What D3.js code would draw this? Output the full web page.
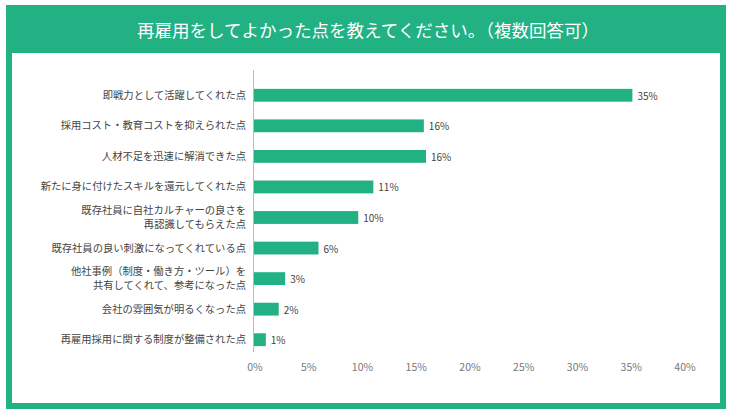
<!DOCTYPE html>
<meta charset="utf-8">
<style>
    body {
        margin: 0;
        font-family: 'Noto Sans CJK JP', 'Noto Sans', sans-serif;
        background: #fff;
    }
</style>
<script src="https://cdn.jsdelivr.net/npm/d3@7"></script>
<div id="graph"></div>
<script>
    const title = "再雇用をしてよかった点を教えてください。（複数回答可）";
    const categories = [
        ["即戦力として活躍してくれた点"],
        ["採用コスト・教育コストを抑えられた点"],
        ["人材不足を迅速に解消できた点"],
        ["新たに身に付けたスキルを還元してくれた点"],
        ["既存社員に自社カルチャーの良さを", "再認識してもらえた点"],
        ["既存社員の良い刺激になってくれている点"],
        ["他社事例（制度・働き方・ツール）を", "共有してくれて、参考になった点"],
        ["会社の雰囲気が明るくなった点"],
        ["再雇用採用に関する制度が整備された点"]
    ];
    const values = [35.2, 15.8, 16.0, 11.1, 9.7, 6.0, 2.9, 2.3, 1.1];
    const valueLabels = ["35%", "16%", "16%", "11%", "10%", "6%", "3%", "2%", "1%"];
    const ticks = [0, 5, 10, 15, 20, 25, 30, 35, 40];

    const W = 733, H = 415, green = "#22b183";

    const svg = d3.select("#graph").append("svg")
        .attr("width", W).attr("height", H);

    // frame + header band
    svg.append("rect").attr("x", 6).attr("y", 5).attr("width", 720).attr("height", 404).attr("fill", green);
    svg.append("rect").attr("x", 12).attr("y", 53).attr("width", 708).attr("height", 350).attr("fill", "#fff");
    svg.append("text")
        .attr("x", 368).attr("y", 29)
        .attr("text-anchor", "middle").attr("dominant-baseline", "central")
        .attr("fill", "#fff").attr("font-size", 17.5)
        .text(title);

    const x = d3.scaleLinear().domain([0, 40]).range([254, 684]);
    const y = d3.scaleBand().domain(d3.range(categories.length)).range([80, 355]).paddingInner(0.58).paddingOuter(0.29);

    // bars
    svg.append("g").selectAll("rect")
        .data(values).enter().append("rect")
        .attr("x", x(0))
        .attr("y", (d, i) => y(i))
        .attr("width", d => x(d) - x(0))
        .attr("height", y.bandwidth())
        .attr("fill", green);

    // value labels
    svg.append("g").selectAll("text")
        .data(values).enter().append("text")
        .attr("x", d => x(d) + 5)
        .attr("y", (d, i) => y(i) + y.bandwidth() / 2)
        .attr("dominant-baseline", "central")
        .attr("font-size", 10)
        .attr("fill", "#444")
        .text((d, i) => valueLabels[i]);

    // axis line
    svg.append("line")
        .attr("x1", x(0) - 0.5).attr("x2", x(0) - 0.5)
        .attr("y1", 70).attr("y2", 352)
        .attr("stroke", "#bbb").attr("stroke-width", 1);

    // category labels
    const lab = svg.append("g").selectAll("text")
        .data(categories).enter().append("text")
        .attr("x", 246)
        .attr("y", (d, i) => y(i) + y.bandwidth() / 2)
        .attr("text-anchor", "end")
        .attr("font-size", 10.3)
        .attr("fill", "#444");
    lab.each(function (d) {
        const t = d3.select(this);
        const n = d.length;
        d.forEach((line, j) => {
            t.append("tspan")
                .attr("x", 246)
                .attr("dy", j === 0 ? (-(n - 1) * 7 + 3.5) : 14)
                .text(line);
        });
    });

    // x tick labels
    svg.append("g").selectAll("text")
        .data(ticks).enter().append("text")
        .attr("x", d => x(d) + 1)
        .attr("y", 366)
        .attr("text-anchor", "middle")
        .attr("dominant-baseline", "central")
        .attr("font-size", 10.5)
        .attr("fill", "#777")
        .text(d => d + "%");
</script>
